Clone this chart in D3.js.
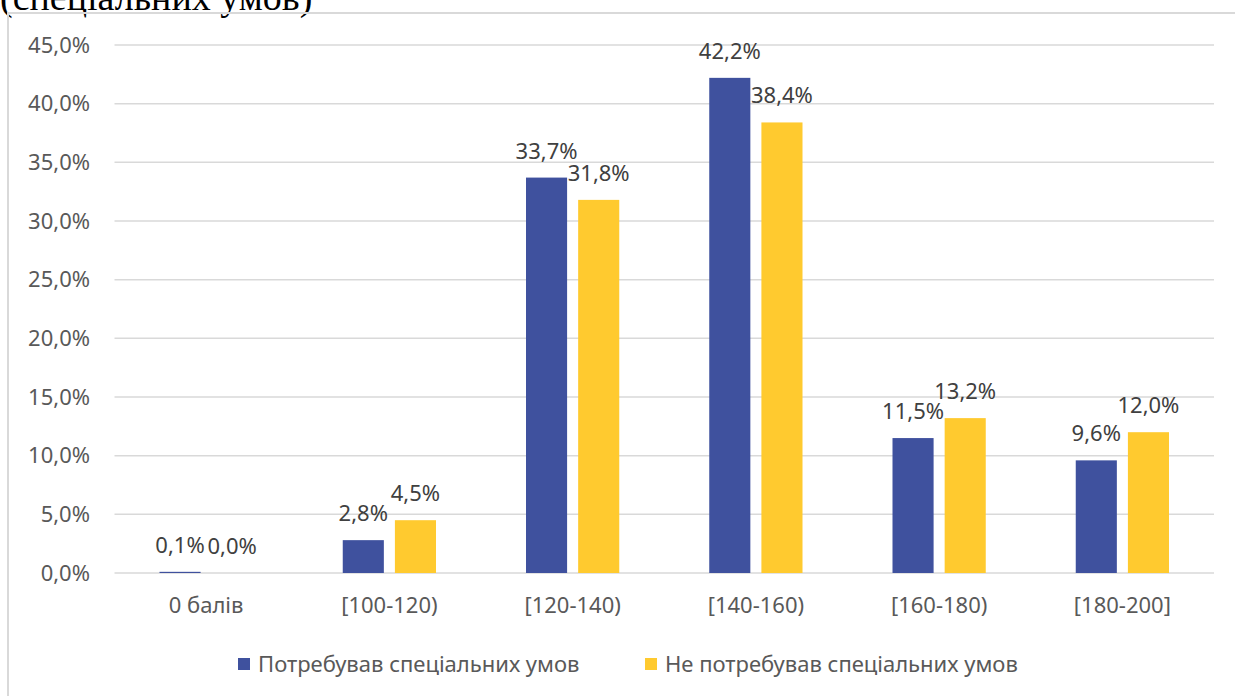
<!DOCTYPE html>
<html lang="uk">
  <head>
    <meta charset="utf-8">
    <title>Розподіл результатів</title>
    <script type="text/javascript" src="https://d3js.org/d3.v7.min.js"></script>
    <style>
      body {
        margin: 0;
        background: #ffffff;
        font-family: 'Noto Sans', 'Open Sans', sans-serif;
      }
      .grid line {
        stroke: #d9d9d9;
        stroke-width: 1.5;
      }
      .axis-text {
        fill: #595959;
        font-size: 22px;
      }
      .value-label {
        fill: #404040;
        font-size: 22px;
      }
    </style>
  </head>
  <body>
    <div id="chart"></div>
    <script type="text/javascript">

      // data
      var categories = ['0 балів', '[100-120)', '[120-140)', '[140-160)', '[160-180)', '[180-200]'];
      var seriesNames = ['Потребував спеціальних умов', 'Не потребував спеціальних умов'];
      var needSpecial = [0.1, 2.8, 33.7, 42.2, 11.5, 9.6];
      var noSpecial = [0.0, 4.5, 31.8, 38.4, 13.2, 12.0];
      var yTicks = [0, 5, 10, 15, 20, 25, 30, 35, 40, 45];
      var colors = ['#3f519e', '#ffca2f'];

      var w = 1235;
      var h = 696;

      var svg = d3.select('#chart')
        .append('svg')
          .attr('width', w)
          .attr('height', h);

      // caption line above the chart frame, cut by the top edge
      svg.append('text')
        .attr('x', 0)
        .attr('y', 10)
        .style('font-family', "'Liberation Serif', 'DejaVu Serif', serif")
        .style('font-size', '38px')
        .style('fill', '#000')
        .text('(спеціальних умов)');

      // chart frame (runs past the right and bottom edges)
      svg.append('rect')
        .attr('x', 8)
        .attr('y', 13)
        .attr('width', w + 20)
        .attr('height', h + 20)
        .attr('fill', 'none')
        .attr('stroke', '#d9d9d9')
        .attr('stroke-width', 2);

      var x0 = d3.scaleBand()
        .domain(categories)
        .range([114.5, 1214]);

      var x1 = d3.scaleBand()
        .domain(seriesNames)
        .range([45, x0.bandwidth() - 45])
        .paddingInner(0.212);

      var y = d3.scaleLinear()
        .domain([0, 45])
        .range([573, 45]);

      // gridlines
      svg.append('g')
        .attr('class', 'grid')
        .selectAll('line')
        .data(yTicks)
        .enter()
        .append('line')
          .attr('x1', x0.range()[0])
          .attr('x2', x0.range()[1])
          .attr('y1', function(d) { return y(d); })
          .attr('y2', function(d) { return y(d); });

      // y axis labels
      svg.append('g')
        .selectAll('text')
        .data(yTicks)
        .enter()
        .append('text')
          .attr('class', 'axis-text')
          .attr('x', 90)
          .attr('y', function(d) { return y(d); })
          .attr('dy', '0.35em')
          .attr('text-anchor', 'end')
          .text(function(d) { return d.toFixed(1).replace('.', ',') + '%'; });

      // x axis labels
      svg.append('g')
        .selectAll('text')
        .data(categories)
        .enter()
        .append('text')
          .attr('class', 'axis-text')
          .attr('x', function(d) { return x0(d) + x0.bandwidth() / 2; })
          .attr('y', 613)
          .attr('text-anchor', 'middle')
          .text(function(d) { return d; });

      var rows = categories.map(function(c, i) {
        return [
          { series: seriesNames[0], value: needSpecial[i], cat: c, color: colors[0] },
          { series: seriesNames[1], value: noSpecial[i], cat: c, color: colors[1] }
        ];
      });

      var groups = svg.selectAll('.cat-group')
        .data(rows)
        .enter()
        .append('g')
          .attr('class', 'cat-group')
          .attr('transform', function(d, i) { return 'translate(' + x0(categories[i]) + ', 0)'; });

      groups.selectAll('rect')
        .data(function(d) { return d; })
        .enter()
        .append('rect')
          .attr('x', function(d) { return x1(d.series); })
          .attr('y', function(d) { return y(d.value); })
          .attr('width', x1.bandwidth())
          .attr('height', function(d) { return y(0) - y(d.value); })
          .attr('fill', function(d) { return d.color; });

      groups.selectAll('.value-label')
        .data(function(d) { return d; })
        .enter()
        .append('text')
          .attr('class', 'value-label')
          .attr('x', function(d) { return x1(d.series) + x1.bandwidth() / 2; })
          .attr('y', function(d) { return y(d.value) - 19; })
          .attr('text-anchor', 'middle')
          .text(function(d) { return d.value.toFixed(1).replace('.', ',') + '%'; });

      // legend
      var legendX = [238, 645];
      var legend = svg.selectAll('.legend-item')
        .data(seriesNames)
        .enter()
        .append('g')
          .attr('class', 'legend-item')
          .attr('transform', function(d, i) { return 'translate(' + legendX[i] + ', 658)'; });

      legend.append('rect')
        .attr('width', 12)
        .attr('height', 12)
        .attr('fill', function(d, i) { return colors[i]; });

      legend.append('text')
        .attr('class', 'axis-text')
        .attr('x', 20)
        .attr('y', 6)
        .attr('dy', '0.35em')
        .text(function(d) { return d; });

    </script>
  </body>
</html>
